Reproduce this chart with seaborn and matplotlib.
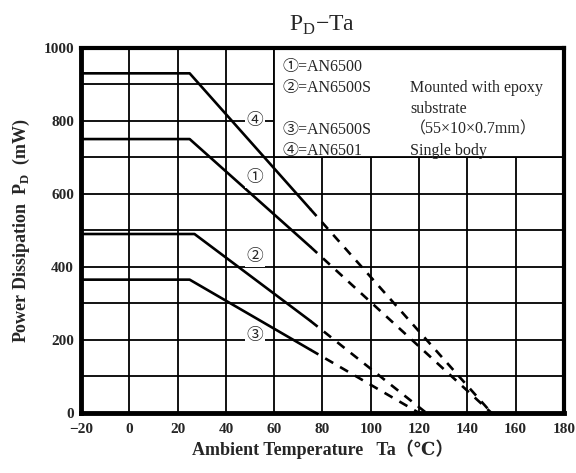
import pandas as pd
import numpy as np
import matplotlib
matplotlib.use("Agg")
import matplotlib.pyplot as plt
from matplotlib.patches import Rectangle
import seaborn as sns

# Valores (Ta em °C, Pd em mW)
curvas = ["①", "②", "③", "④"]
ta_1 = [-20, 25, 75, 150]
pd_1 = [750, 750, 455, 0]
ta_2 = [-20, 27, 75, 123]
pd_2 = [490, 490, 252, 0]
ta_3 = [-20, 25, 75, 120]
pd_3 = [365, 365, 173, 0]
ta_4 = [-20, 25, 75, 150]
pd_4 = [930, 930, 558, 0]

rotulo_x = [52, 52, 52, 52]
rotulo_y = [644, 428, 210, 800]

legenda_esq = ["①=AN6500", "②=AN6500S", "", "③=AN6500S", "④=AN6501"]
legenda_dir = ["", "Mounted with epoxy", "substrate", "（55×10×0.7mm）", "Single body"]

# Tabela longa: trecho sólido (3 primeiros pontos) e tracejado (2 últimos)
linhas = []
for nome, ta, pdv in zip(curvas, [ta_1, ta_2, ta_3, ta_4], [pd_1, pd_2, pd_3, pd_4]):
    for i in range(3):
        linhas.append({"curva": nome + "s", "trecho": "solido", "Ta": ta[i], "Pd": pdv[i]})
    for i in range(2, 4):
        linhas.append({"curva": nome + "d", "trecho": "tracejado", "Ta": ta[i], "Pd": pdv[i]})
df = pd.DataFrame(linhas)

sns.set_style("white")
serif = ["Liberation Serif", "DejaVu Serif", "Noto Sans CJK JP", "DejaVu Sans"]
plt.rcParams["font.family"] = serif
plt.rcParams["mathtext.fontset"] = "custom"
plt.rcParams["mathtext.rm"] = "Liberation Serif"
plt.rcParams["mathtext.bf"] = "Liberation Serif:bold"

fig = plt.figure(figsize=(5.76, 4.73), dpi=100)
ax = fig.add_axes([0.1406, 0.127, 0.8385, 0.772])

sns.lineplot(data=df, x="Ta", y="Pd", units="curva", style="trecho", estimator=None,
             sort=False, color="black", linewidth=1.9,
             dashes={"solido": "", "tracejado": (3.5, 3.0)}, legend=False, ax=ax, zorder=3)

ax.set_xlim(-20, 180)
ax.set_ylim(0, 1000)
ax.set_xticks(np.arange(-20, 181, 20))
ax.set_yticks(np.arange(0, 1001, 200))
ax.set_yticks(np.arange(100, 1000, 100), minor=True)
ax.grid(True, which="both", color="black", linewidth=1.3, zorder=1)
ax.set_axisbelow(True)
ax.tick_params(which="both", length=0, labelsize=11)
ax.tick_params(axis="x", pad=7)
ax.tick_params(axis="y", pad=5)
ax.set_xticklabels(["−20", "0", "20", "40", "60", "80", "100", "120", "140", "160", "180"])
for lab in ax.get_xticklabels() + ax.get_yticklabels():
    lab.set_fontweight("bold")

for lado, lw in [("left", 3.5), ("bottom", 3.5), ("top", 3.0), ("right", 3.0)]:
    ax.spines[lado].set_linewidth(lw)
    ax.spines[lado].set_color("black")

# caixa da legenda sem grade
ax.add_patch(Rectangle((60, 700), 120, 300, facecolor="white", edgecolor="black",
                       linewidth=1.3, zorder=1.5))

for nome, x, y in zip(curvas, rotulo_x, rotulo_y):
    ax.text(x, y, nome, ha="center", va="center", fontsize=12, family=serif, zorder=4,
            bbox=dict(facecolor="white", edgecolor="none", pad=1.5))

y0 = 0.948
for i, (esq, dir_) in enumerate(zip(legenda_esq, legenda_dir)):
    yy = y0 - i * 0.0575
    if esq:
        ax.text(0.418, yy, esq, transform=ax.transAxes, fontsize=11.5, va="center",
                family=serif, zorder=4)
    if dir_:
        ax.text(0.681, yy, dir_, transform=ax.transAxes, fontsize=11.5, va="center",
                family=serif, zorder=4)

ax.set_title(r"P$_\mathrm{D}$−Ta", fontsize=17, pad=12, family=serif)
ax.set_xlabel("Ambient Temperature   Ta（℃）", fontsize=13, fontweight="bold",
              family=serif, labelpad=3)
ax.set_ylabel(r"Power Dissipation  P$_\mathbf{D}$  (mW)", fontsize=13, fontweight="bold",
              family=serif, labelpad=8)

fig.savefig("out.png", dpi=100)
